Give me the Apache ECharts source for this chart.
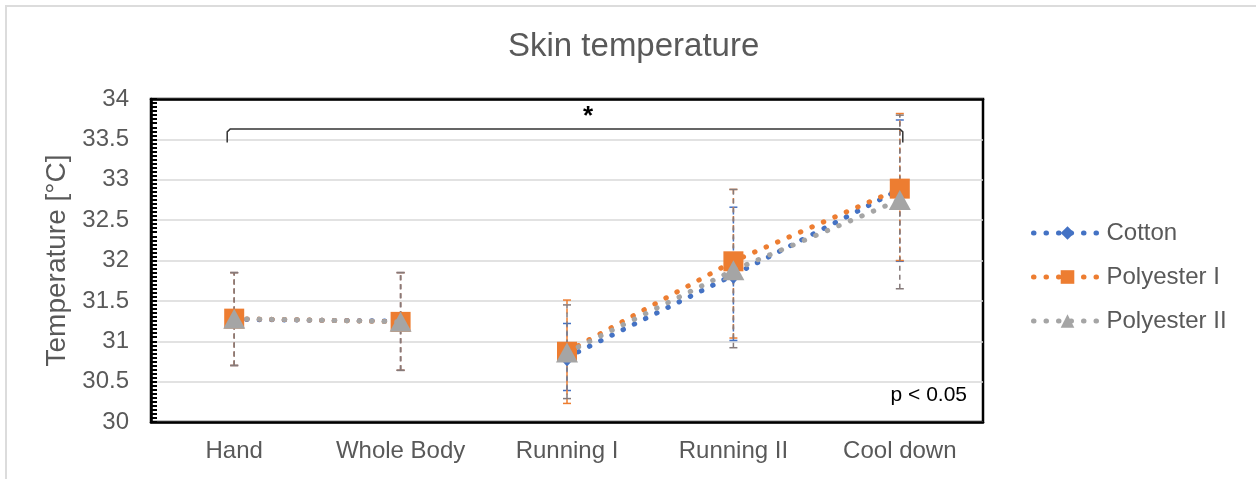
<!DOCTYPE html>
<html>
<head>
<meta charset="utf-8">
<title>Skin temperature</title>
<script src="https://cdn.jsdelivr.net/npm/echarts@6/dist/echarts.min.js"></script>
<style>
  html, body { margin: 0; padding: 0; background: #fff; }
  #main { width: 1256px; height: 479px; }
</style>
</head>
<body>
<div id="main"></div>
<script>
// categories & phases (line is broken between phase 0 and phase 1)
var categories = ['Hand', 'Whole Body', 'Running I', 'Running II', 'Cool down'];
var phases = [0, 0, 1, 1, 1];
var yTicks = [30, 30.5, 31, 31.5, 32, 32.5, 33, 33.5, 34];

// means
var cottonMean = [31.27, 31.25, 30.80, 31.82, 32.88];
var polyIMean = [31.28, 31.24, 30.87, 31.99, 32.89];
var polyIIMean = [31.28, 31.24, 30.86, 31.88, 32.75];

// error bar ends (low / high)
var cottonLow = [30.70, 30.64, 30.39, 31.01, 31.99];
var cottonHigh = [31.85, 31.85, 31.22, 32.66, 33.74];
var polyILow = [30.70, 30.64, 30.23, 31.04, 32.00];
var polyIHigh = [31.85, 31.85, 31.51, 32.88, 33.82];
var polyIILow = [30.70, 30.64, 30.29, 30.92, 31.65];
var polyIIHigh = [31.85, 31.85, 31.45, 32.88, 33.80];

// significance bracket
var bracketFrom = 'Hand';
var bracketTo = 'Cool down';
var bracketTop = 33.63;
var bracketFoot = 33.46;
var bracketMark = '*';
var pText = 'p < 0.05';

var FONT = 'Liberation Sans, Arial, sans-serif';
var TXT = '#595959';
var DOTS = [0.5, 12];

// split a series into segments by phase
function segment(values, ph){
	var out = [];
	for (var i = 0; i < values.length; i++) {
		out.push(phases[i] == ph ? values[i] : '-');
	}
	return out;
}

function lineSeries(name, values, color, symbol, size, z){
	var list = [];
	[0, 1].forEach(function(ph){
		list.push({
			name: name,
			type: 'line',
			data: segment(values, ph),
			z: z,
			symbol: symbol,
			symbolSize: size,
			showAllSymbol: true,
			itemStyle: { color: color },
			lineStyle: { color: color, width: 5, type: DOTS, cap: 'round' }
		});
	});
	return list;
}

function errorSeries(low, high, color){
	var data = [];
	for (var i = 0; i < low.length; i++) {
		data.push([i, low[i], high[i]]);
	}
	return {
		type: 'custom',
		z: 1,
		silent: true,
		data: data,
		encode: { x: 0, y: [1, 2] },
		renderItem: function(params, api){
			var lo = api.coord([api.value(0), api.value(1)]);
			var hi = api.coord([api.value(0), api.value(2)]);
			var cap = 4;
			var st = { stroke: color, lineWidth: 1.5, lineDash: [5, 4] };
			var cs = { stroke: color, lineWidth: 1.5 };
			return {
				type: 'group',
				children: [
					{ type: 'line', shape: { x1: lo[0], y1: lo[1], x2: hi[0], y2: hi[1] }, style: st },
					{ type: 'line', shape: { x1: lo[0] - cap, y1: lo[1], x2: lo[0] + cap, y2: lo[1] }, style: cs },
					{ type: 'line', shape: { x1: hi[0] - cap, y1: hi[1], x2: hi[0] + cap, y2: hi[1] }, style: cs }
				]
			};
		}
	};
}

var series = [];
series.push(errorSeries(cottonLow, cottonHigh, '#4472c4'));
series.push(errorSeries(polyILow, polyIHigh, '#ed7d31'));
series.push(errorSeries(polyIILow, polyIIHigh, '#857a7a'));
series = series.concat(lineSeries('Cotton', cottonMean, '#4472c4', 'diamond', [16, 18], 2));
series = series.concat(lineSeries('Polyester I', polyIMean, '#ed7d31', 'rect', 20, 3));
series = series.concat(lineSeries('Polyester II', polyIIMean, '#a5a5a5', 'triangle', [22, 20], 4));

// bracket + asterisk
series.push({
	type: 'custom',
	z: 5,
	silent: true,
	data: [[categories.indexOf(bracketFrom), bracketTop]],
	renderItem: function(params, api){
		var i0 = categories.indexOf(bracketFrom);
		var i1 = categories.indexOf(bracketTo);
		var a = api.coord([i0, bracketFoot]);
		var b = api.coord([i0, bracketTop]);
		var c = api.coord([i1, bracketTop]);
		var d = api.coord([i1, bracketFoot]);
		var m = api.coord([2, bracketTop]);
		return {
			type: 'group',
			children: [
				{
					type: 'polyline',
					shape: { points: [[a[0] - 7, a[1]], [b[0] - 7, b[1] + 3], [b[0] - 4, b[1]], [c[0], c[1]], [c[0] + 3, c[1] + 3], [d[0] + 3, d[1]]] },
					style: { stroke: '#333', lineWidth: 1.5, fill: null }
				},
				{
					type: 'text',
					x: m[0] + 21, y: m[1] - 12,
					style: { text: bracketMark, font: 'bold 26px ' + FONT, fill: '#000', align: 'center', verticalAlign: 'middle' }
				}
			]
		};
	}
});

var option = {
	animation: false,
	backgroundColor: '#fff',
	title: {
		text: 'Skin temperature',
		left: 508,
		top: 30,
		padding: 0,
		textStyle: { color: TXT, fontSize: 33, fontWeight: 'normal', fontFamily: FONT }
	},
	legend: {
		orient: 'vertical',
		left: 1026,
		top: 216,
		itemWidth: 68,
		itemHeight: 17,
		itemGap: 20,
		data: ['Cotton', 'Polyester I', 'Polyester II'],
		lineStyle: { width: 5, type: DOTS, cap: 'round' },
		textStyle: { color: TXT, fontSize: 24, fontFamily: FONT }
	},
	grid: {
		left: 151, right: 273, top: 99, bottom: 57,
		show: true, borderColor: '#000', borderWidth: 2.5,
		containLabel: false
	},
	xAxis: [
		{
			type: 'category',
			data: categories,
			boundaryGap: true,
			axisLine: { lineStyle: { color: '#000', width: 2.5 } },
			axisTick: { show: false },
			axisLabel: { color: TXT, fontSize: 24, fontFamily: FONT, margin: 17, interval: 0 }
		},
		{
			// top frame line of the plot area
			type: 'category',
			position: 'top',
			data: categories,
			axisLine: { show: true, lineStyle: { color: '#000', width: 2.5 } },
			axisTick: { show: false },
			axisLabel: { show: false },
			splitLine: { show: false }
		}
	],
	yAxis: {
		type: 'value',
		min: 30, max: 34, interval: 0.5,
		name: 'Temperature [°C]',
		nameLocation: 'middle',
		nameGap: 72,
		nameTextStyle: { color: TXT, fontSize: 28, fontFamily: FONT },
		axisLine: { show: true, lineStyle: { color: '#000', width: 2.5 } },
		axisTick: { show: true, inside: true, length: 6, lineStyle: { color: '#000', width: 2 } },
		minorTick: { show: true, splitNumber: 10, length: 6, lineStyle: { color: '#000', width: 2 } },
		axisLabel: {
			color: TXT, fontSize: 24, fontFamily: FONT, margin: 22,
			formatter: function(v){ return yTicks.indexOf(v) >= 0 ? String(v) : ''; }
		},
		splitLine: { lineStyle: { color: '#d9d9d9', width: 1.5 } }
	},
	graphic: [
		{
			type: 'rect', silent: true, z: -1,
			shape: { x: 6, y: 6, width: 1300, height: 600 },
			style: { fill: null, stroke: '#dcdcdc', lineWidth: 2 }
		},
		{
			type: 'text', silent: true,
			x: 967, y: 395,
			style: { text: pText, font: '21px ' + FONT, fill: '#000', align: 'right', verticalAlign: 'middle' }
		}
	],
	series: series
};

var myChart = echarts.init(document.getElementById('main'));
myChart.setOption(option);
</script>
</body>
</html>
